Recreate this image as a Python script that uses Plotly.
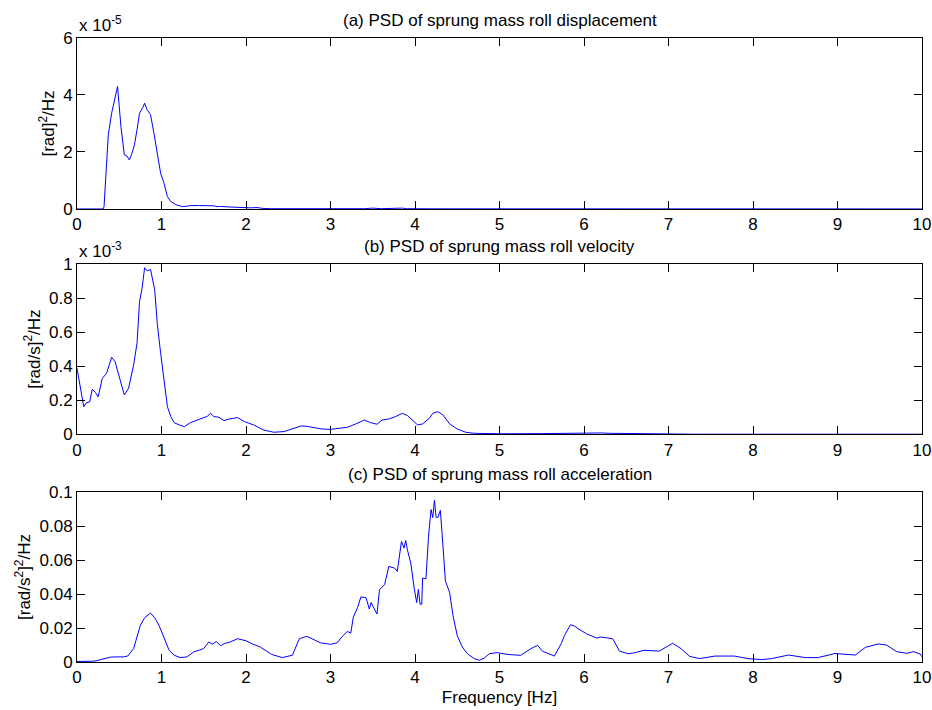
import plotly.graph_objects as go

# ---------------- data ----------------
# (a) PSD of sprung mass roll displacement, values in units of 1e-5 [rad]^2/Hz
freq_a = [0.00, 0.10, 0.20, 0.30, 0.31, 0.32, 0.35, 0.37, 0.41, 0.45,
          0.48, 0.52, 0.56, 0.59, 0.62, 0.65, 0.68, 0.71, 0.74, 0.78,
          0.80, 0.83, 0.87, 0.91, 0.95, 0.99, 1.03, 1.07, 1.11, 1.17,
          1.25, 1.30, 1.35, 1.45, 1.55, 1.62, 1.66, 1.70, 1.80, 1.86,
          1.95, 2.05, 2.13, 2.20, 2.30, 2.60, 3.00, 3.40, 3.50, 3.60,
          3.85, 3.90, 4.20, 5.00, 6.00, 7.00, 8.00, 9.00, 10.00]
psd_a = [0, 0, 0, 0, 0, 0.08, 1.49, 2.60, 3.36, 3.89,
         4.30, 2.89, 1.90, 1.86, 1.72, 1.95, 2.25, 2.78, 3.36, 3.57,
         3.71, 3.48, 3.31, 2.66, 2.02, 1.25, 0.90, 0.43, 0.26, 0.15,
         0.08, 0.10, 0.12, 0.12, 0.12, 0.11, 0.08, 0.09, 0.07, 0.06,
         0.05, 0.04, 0.05, 0.02, 0.01, 0.005, 0.005, 0.01, 0.03, 0.01,
         0.03, 0.01, 0.005, 0.003, 0.002, 0.002, 0.001, 0.001, 0.001]

# (b) PSD of sprung mass roll velocity, values in units of 1e-3 [rad/s]^2/Hz
freq_b = [0.00, 0.04, 0.08, 0.11, 0.15, 0.18, 0.22, 0.25, 0.30, 0.35,
          0.41, 0.45, 0.50, 0.56, 0.61, 0.67, 0.71, 0.74, 0.77, 0.80,
          0.83, 0.87, 0.92, 0.95, 0.99, 1.03, 1.07, 1.11, 1.15, 1.21,
          1.27, 1.34, 1.40, 1.46, 1.54, 1.58, 1.62, 1.68, 1.74, 1.80,
          1.86, 1.90, 1.98, 2.09, 2.21, 2.33, 2.45, 2.56, 2.65, 2.72,
          2.81, 2.90, 3.00, 3.10, 3.20, 3.30, 3.40, 3.47, 3.55, 3.61,
          3.69, 3.77, 3.85, 3.91, 3.99, 4.03, 4.09, 4.17, 4.21, 4.27,
          4.33, 4.41, 4.50, 4.60, 4.70, 4.85, 5.00, 5.50, 5.80, 5.90,
          6.00, 6.20, 6.30, 6.60, 7.00, 7.20, 7.30, 8.00, 9.00, 10.00]
psd_b = [0.388, 0.280, 0.162, 0.185, 0.190, 0.264, 0.245, 0.220, 0.329, 0.358,
         0.452, 0.427, 0.339, 0.231, 0.270, 0.407, 0.534, 0.779, 0.857, 0.978,
         0.960, 0.968, 0.847, 0.650, 0.475, 0.299, 0.162, 0.104, 0.068, 0.055,
         0.045, 0.068, 0.078, 0.088, 0.105, 0.123, 0.104, 0.100, 0.080, 0.090,
         0.094, 0.098, 0.075, 0.055, 0.025, 0.012, 0.016, 0.035, 0.049, 0.047,
         0.039, 0.031, 0.029, 0.033, 0.041, 0.061, 0.084, 0.069, 0.059, 0.084,
         0.090, 0.104, 0.123, 0.110, 0.075, 0.055, 0.061, 0.094, 0.123, 0.133,
         0.114, 0.061, 0.031, 0.012, 0.006, 0.003, 0.003, 0.004, 0.006, 0.010,
         0.008, 0.008, 0.006, 0.004, 0.003, 0.003, 0.0005, 0.0005, 0.0005, 0.0005]

# (c) PSD of sprung mass roll acceleration, [rad/s^2]^2/Hz
freq_c = [0.00, 0.10, 0.20, 0.25, 0.32, 0.40, 0.48, 0.55, 0.60, 0.67,
          0.75, 0.80, 0.87, 0.92, 0.97, 1.03, 1.09, 1.15, 1.22, 1.30,
          1.38, 1.45, 1.50, 1.56, 1.60, 1.65, 1.70, 1.75, 1.80, 1.90,
          2.00, 2.08, 2.17, 2.30, 2.43, 2.55, 2.63, 2.72, 2.82, 2.88,
          3.00, 3.08, 3.14, 3.20, 3.24, 3.27, 3.32, 3.36, 3.42, 3.46,
          3.48, 3.52, 3.55, 3.58, 3.64, 3.69, 3.76, 3.79, 3.84, 3.87,
          3.89, 3.91, 3.95, 3.99, 4.02, 4.04, 4.06, 4.08, 4.09, 4.13,
          4.16, 4.19, 4.21, 4.23, 4.25, 4.27, 4.30, 4.32, 4.36, 4.41,
          4.45, 4.50, 4.56, 4.62, 4.70, 4.76, 4.82, 4.88, 4.97, 5.09,
          5.25, 5.37, 5.45, 5.51, 5.65, 5.73, 5.77, 5.84, 5.89, 5.93,
          6.03, 6.15, 6.20, 6.34, 6.42, 6.52, 6.59, 6.71, 6.89, 7.05,
          7.15, 7.25, 7.37, 7.55, 7.78, 7.94, 8.10, 8.22, 8.42, 8.62,
          8.77, 8.97, 9.21, 9.33, 9.48, 9.58, 9.70, 9.82, 9.90, 9.98,
          10.00]
psd_c = [0.0003, 0.0003, 0.0005, 0.0010, 0.0020, 0.0029, 0.0030, 0.0030, 0.0035, 0.0079,
         0.0216, 0.0260, 0.0288, 0.0260, 0.0216, 0.0138, 0.0069, 0.0040, 0.0026, 0.0030,
         0.0059, 0.0070, 0.0079, 0.0118, 0.0105, 0.0120, 0.0095, 0.0110, 0.0115, 0.0137,
         0.0125, 0.0105, 0.0088, 0.0045, 0.0026, 0.0040, 0.0137, 0.0151, 0.0126, 0.0113,
         0.0104, 0.0113, 0.0151, 0.0180, 0.0170, 0.0264, 0.0320, 0.0383, 0.0378, 0.0311,
         0.0350, 0.0311, 0.0282, 0.0425, 0.0455, 0.0562, 0.0552, 0.0533, 0.0709, 0.0670,
         0.0715, 0.0660, 0.0582, 0.0435, 0.0350, 0.0427, 0.0340, 0.0340, 0.0494, 0.0490,
         0.0740, 0.0897, 0.0850, 0.0951, 0.0850, 0.0850, 0.0892, 0.0760, 0.0476, 0.0409,
         0.0272, 0.0155, 0.0088, 0.0049, 0.0020, 0.0010, 0.0023, 0.0049, 0.0055, 0.0045,
         0.0039, 0.0078, 0.0098, 0.0063, 0.0035, 0.0108, 0.0157, 0.0219, 0.0211, 0.0196,
         0.0166, 0.0141, 0.0147, 0.0137, 0.0064, 0.0049, 0.0053, 0.0069, 0.0064, 0.0110,
         0.0078, 0.0033, 0.0020, 0.0035, 0.0035, 0.0020, 0.0014, 0.0020, 0.0041, 0.0026,
         0.0026, 0.0050, 0.0041, 0.0086, 0.0106, 0.0100, 0.0061, 0.0051, 0.0061, 0.0047,
         0.0030]

titles = ["(a) PSD of sprung mass roll displacement",
          "(b) PSD of sprung mass roll velocity",
          "(c) PSD of sprung mass roll acceleration"]
ylabels = ["[rad]<sup>2</sup>/Hz",
           "[rad/s]<sup>2</sup>/Hz",
           "[rad/s<sup>2</sup>]<sup>2</sup>/Hz"]
multipliers = ["x 10<sup>-5</sup>", "x 10<sup>-3</sup>", None]
yranges = [[0, 6], [0, 1], [0, 0.1]]
ydticks = [2, 0.2, 0.02]
xlabel = "Frequency [Hz]"

# ---------------- figure ----------------
FONT = "Arial, 'Liberation Sans', Helvetica, sans-serif"
FS = 17
domains = [[0.726, 1.0], [0.3649, 0.6378], [0.0, 0.2724]]

fig = go.Figure()
series = [(freq_a, psd_a), (freq_b, psd_b), (freq_c, psd_c)]
for i, (fx, fy) in enumerate(series):
    ax = "" if i == 0 else str(i + 1)
    fig.add_trace(go.Scatter(x=fx, y=fy, mode="lines",
                             line=dict(color="#0000ff", width=1),
                             xaxis="x" + ax, yaxis="y" + ax,
                             showlegend=False, hoverinfo="skip"))

axis_common = dict(showline=True, linecolor="black", linewidth=1, mirror="ticks",
                   ticks="inside", ticklen=8, tickcolor="black", tickwidth=1,
                   showgrid=False, zeroline=False, automargin=False,
                   tickfont=dict(family=FONT, size=FS, color="black"))

layout = dict(width=932, height=710,
              margin=dict(l=77, r=10, t=38, b=48, autoexpand=False),
              plot_bgcolor="white", paper_bgcolor="white",
              font=dict(family=FONT, size=FS, color="black"),
              showlegend=False)

annotations = []
for i in range(3):
    ax = "" if i == 0 else str(i + 1)
    xa = dict(axis_common, domain=[0, 1], range=[0, 10], dtick=1, tick0=0,
              anchor="y" + ax)
    if i == 2:
        xa["title"] = dict(text=xlabel, font=dict(family=FONT, size=FS), standoff=4)
    ya = dict(axis_common, domain=domains[i], range=yranges[i], dtick=ydticks[i],
              tick0=0, anchor="x" + ax,
              title=dict(text=ylabels[i], font=dict(family=FONT, size=FS), standoff=4))
    layout["xaxis" + ax] = xa
    layout["yaxis" + ax] = ya
    annotations.append(dict(text=titles[i], xref="paper", yref="paper",
                            x=0.5, y=domains[i][1], xanchor="center",
                            yanchor="middle", yshift=18, showarrow=False,
                            font=dict(family=FONT, size=FS, color="black")))
    if multipliers[i]:
        annotations.append(dict(text=multipliers[i], xref="paper", yref="paper",
                                x=0, y=domains[i][1], xanchor="left",
                                yanchor="middle", yshift=14, showarrow=False,
                                font=dict(family=FONT, size=FS, color="black")))
layout["annotations"] = annotations
fig.update_layout(**layout)

fig.write_html("out.html")
